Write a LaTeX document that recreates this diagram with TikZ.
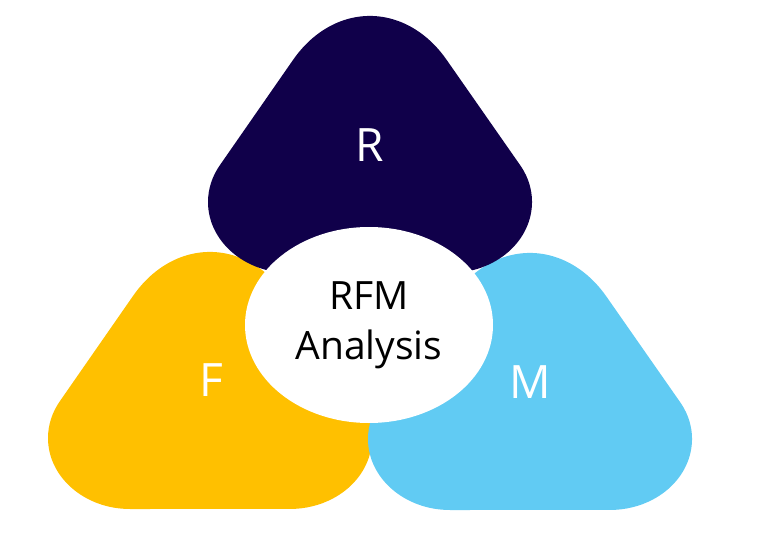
\documentclass[tikz,border=0pt]{standalone}
\usepackage{fontspec}
\setmainfont{Open Sans}
\usetikzlibrary{shapes.geometric}
\definecolor{rfmnavy}{RGB}{16,0,74}
\definecolor{rfmgold}{RGB}{255,192,0}
\definecolor{rfmsky}{RGB}{97,203,243}

\begin{document}
\begin{tikzpicture}[x=1pt, y=1pt,
			every node/.style = {inner sep=0pt, align=center},
			letter/.style = {text=white, font=\fontsize{46}{46}\selectfont},
			core/.style = {shape=ellipse, fill=white, minimum width=248,
				minimum height=196, font=\fontsize{39}{50}\selectfont},
			pics/petal/.style = {code={
				\fill[#1] (-77,-44) arc[start angle=138.9, end angle=41.1, x radius=102, y radius=128.6]
					-- (150.3,-149.4) arc[start angle=31, end angle=-90, x radius=82, y radius=71]
					-- (-80,-257) arc[start angle=-90, end angle=-211, x radius=82, y radius=71]
					-- cycle;}}]
	\useasboundingbox (0,0) rectangle (760,-540);
	\pic at (210,-252) {petal=rfmgold};
	\pic at (530,-253) {petal=rfmsky};
	\pic at (370,-16) {petal=rfmnavy};
	\node[core] (rfm) at (369,-325) {RFM\\Analysis};
	\node[letter] (r) at (370,-145) {R};
	\node[letter] (f) at (211,-380) {F};
	\node[letter] (m) at (530,-382) {M};
\end{tikzpicture}
\end{document}
